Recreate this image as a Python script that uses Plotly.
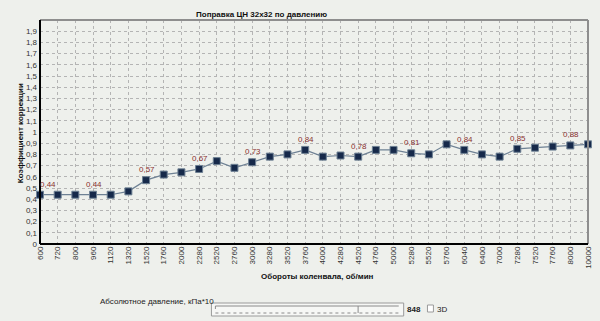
import plotly.graph_objects as go

rpm = ["600", "720", "800", "960", "1120", "1320", "1520", "1760", "2000", "2280",
       "2520", "2760", "3000", "3280", "3520", "3760", "4000", "4280", "4520", "4760",
       "5000", "5280", "5520", "5760", "6040", "6400", "7000", "7280", "7520", "7760",
       "8000", "10000"]
coef = [0.44, 0.44, 0.44, 0.44, 0.44, 0.47, 0.57, 0.62, 0.64, 0.67,
        0.74, 0.68, 0.73, 0.78, 0.80, 0.84, 0.78, 0.79, 0.78, 0.84,
        0.84, 0.81, 0.80, 0.89, 0.84, 0.80, 0.78, 0.85, 0.86, 0.87,
        0.88, 0.89]
y_ticks = [0, 0.1, 0.2, 0.3, 0.4, 0.5, 0.6, 0.7, 0.8, 0.9, 1.0,
           1.1, 1.2, 1.3, 1.4, 1.5, 1.6, 1.7, 1.8, 1.9]
y_tick_text = ["0", "0,1", "0,2", "0,3", "0,4", "0,5", "0,6", "0,7", "0,8", "0,9", "1",
               "1,1", "1,2", "1,3", "1,4", "1,5", "1,6", "1,7", "1,8", "1,9"]
pressure_value = "848"

W, H = 600, 321
L, R, T, B = 40, 593, 20, 244

def px(x):
    return (x - L) / (R - L)

def py(y):
    return (B - y) / (B - T)

xs = list(range(len(rpm)))

fig = go.Figure()
fig.add_trace(go.Scatter(
    x=xs, y=coef, mode="lines+markers",
    line=dict(color="#6e8194", width=1.2),
    marker=dict(symbol="square", size=7, color="#16294a", line=dict(color="#6e8194", width=1)),
    cliponaxis=False, hoverinfo="skip", showlegend=False,
))

fig.update_layout(
    width=W, height=H,
    margin=dict(l=L, r=W - R, t=T, b=H - B),
    paper_bgcolor="#eef0ec", plot_bgcolor="#eef0ec",
    font=dict(family="Liberation Sans", size=8, color="#222"),
    xaxis=dict(range=[0, len(rpm) - 1], tickvals=xs, ticktext=rpm, tickangle=-90,
               showgrid=True, gridcolor="#b4b4b4", griddash="dot", gridwidth=1,
               zeroline=False, showline=False, ticks="", tickfont=dict(size=8, color="#333")),
    yaxis=dict(range=[0, 2], tickvals=y_ticks, ticktext=y_tick_text,
               showgrid=True, gridcolor="#b4b4b4", griddash="dot", gridwidth=1,
               zeroline=False, showline=False, ticks="", ticklabelstandoff=2,
               tickfont=dict(size=8, color="#333")),
)

shapes = [
    dict(type="line", xref="paper", yref="paper", x0=0, x1=1, y0=1, y1=1, line=dict(color="#8e8e8e", width=2)),
    dict(type="line", xref="paper", yref="paper", x0=1, x1=1, y0=0, y1=1, line=dict(color="#8e8e8e", width=2)),
    dict(type="line", xref="paper", yref="paper", x0=0, x1=0, y0=0, y1=1, line=dict(color="#000", width=2)),
    dict(type="line", xref="paper", yref="paper", x0=0, x1=1, y0=0, y1=0, line=dict(color="#000", width=2)),
    # slider
    dict(type="rect", xref="paper", yref="paper", x0=px(213), x1=px(407), y0=py(316), y1=py(303),
         line=dict(color="#9a9a9a", width=1), fillcolor="#f6f7f5"),
    dict(type="line", xref="paper", yref="paper", x0=px(217), x1=px(402), y0=py(306), y1=py(306),
         line=dict(color="#8a8a8a", width=1)),
    dict(type="line", xref="paper", yref="paper", x0=px(217), x1=px(217), y0=py(306), y1=py(309),
         line=dict(color="#8a8a8a", width=1)),
    dict(type="line", xref="paper", yref="paper", x0=px(361), x1=px(361), y0=py(306), y1=py(313),
         line=dict(color="#8a8a8a", width=1)),
    dict(type="line", xref="paper", yref="paper", x0=px(217), x1=px(402), y0=py(313), y1=py(313),
         line=dict(color="#8a8a8a", width=1, dash="dot")),
    # checkbox
    dict(type="rect", xref="paper", yref="paper", x0=px(431), x1=px(437), y0=py(312), y1=py(305),
         line=dict(color="#9a9a9a", width=1), fillcolor="#ffffff"),
]
fig.update_layout(shapes=shapes)

ann = [
    dict(text="<b>Поправка ЦН 32х32 по давлению</b>", x=px(264), y=py(14), font=dict(size=8, color="#111")),
    dict(text="<b>Коэффициент коррекции</b>", x=px(20), y=py(133), textangle=-90, font=dict(size=8, color="#111")),
    dict(text="<b>Обороты коленвала, об/мин</b>", x=px(320), y=py(276), font=dict(size=8, color="#111")),
    dict(text="Абсолютное давление, кПа*10", x=px(158), y=py(301), font=dict(size=8, color="#222")),
    dict(text="<b>" + pressure_value + "</b>", x=px(417), y=py(309), font=dict(size=8, color="#222")),
    dict(text="3D", x=px(446), y=py(309), font=dict(size=8, color="#222")),
]
for a in ann:
    a.update(xref="paper", yref="paper", showarrow=False, xanchor="center", yanchor="middle")

# data labels on every third point
for i, v in enumerate(coef):
    if i % 3 == 0:
        first = (i == 0)
        ann.append(dict(text=("%.2f" % v).replace(".", ","), x=xs[i], y=v, xref="x", yref="y",
                        showarrow=False, xanchor="left" if first else "center", yanchor="bottom",
                        xshift=-2 if first else 1, yshift=4,
                        font=dict(size=8, color="#8a3030")))
fig.update_layout(annotations=ann)

fig.write_html("out.html")
